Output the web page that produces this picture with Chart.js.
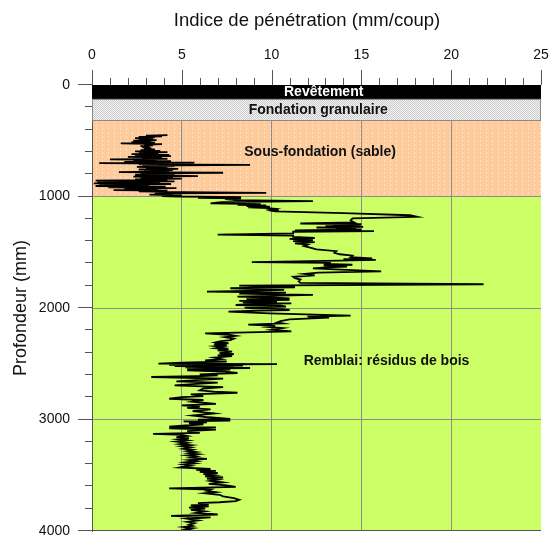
<!DOCTYPE html>
<html lang="fr">
<head>
<meta charset="utf-8">
<title>Indice de pénétration</title>
<script src="https://cdn.jsdelivr.net/npm/chart.js@4.4.1/dist/chart.umd.min.js"></script>
<style>
  html, body { margin: 0; padding: 0; background: #fff; overflow: hidden; }
  #cadre { position: relative; width: 558px; height: 535px; }
</style>
</head>
<body>
<div id="cadre"><canvas id="penetro"></canvas></div>
<script>
// graduations
const ticksX = [0, 5, 10, 15, 20, 25];
const ticksY = [0, 1000, 2000, 3000, 4000];

// couches (profondeur en mm)
const couches = ['Revêtement', 'Fondation granulaire', 'Sous-fondation (sable)', 'Remblai: résidus de bois'];
const couchesHaut = [0, 125, 320, 1000];
const couchesBas = [125, 320, 1000, 4000];
// ou ecrire le nom de la couche (indice, profondeur)
const nomX = [12.9, 12.6, 12.7, 16.4];
const nomY = [62, 222, 600, 2473];

// essai DCP : [profondeur mm, indice mm/coup]
const traceSable = [
  [450,4.2],[455,3.0],[460,3.9],[465,2.6],[470,3.5],[476,2.4],[482,3.4],[488,2.6],[494,3.6],[500,2.3],
  [506,3.3],[512,2.2],[518,3.5],[524,1.6],[530,3.9],[536,2.9],[542,3.4],[548,2.7],[554,3.2],[560,2.8],
  [566,3.3],[572,2.9],[578,3.5],[584,2.7],[590,3.8],[596,2.4],[602,4.2],[608,2.6],[614,3.7],[620,2.2],
  [626,4.3],[632,2.4],[638,4.4],[644,2.0],[650,3.9],[656,2.8],[662,4.2],[667,1.0],[672,3.6],[678,2.3],
  [684,4.4],[690,1.8],[697,5.7],[700,0.4],[706,4.0],[712,2.6],[716,8.8],[722,2.8],[728,4.6],[734,2.5],
  [740,4.2],[746,3.0],[752,4.8],[758,2.6],[764,4.5],[770,2.9],[776,4.3],[782,1.5],[787,7.3],[793,2.7],
  [799,4.6],[805,2.4],[811,4.0],[817,5.9],[822,2.3],[828,4.5],[834,2.7],[840,5.0],[846,2.4],[852,4.2],
  [858,0.2],[864,4.6],[870,0.3],[876,3.8],[882,0.1],[888,4.4],[894,0.4],[900,3.2],[906,0.2],[912,4.1],
  [918,0.9],[924,4.7],[930,1.8],[936,3.7],[942,1.2],[948,4.2],[954,2.6],[960,5.0],[967,9.7],[972,3.5],
  [978,4.5],[984,3.2],[990,5.0],[996,3.9]
];

const traceRemblaiHaut = [
  [1000,4.8],[1006,8.3],[1011,5.9],[1016,8.3],[1024,7.4],[1032,8.0],[1042,12.3],[1050,7.2],[1062,6.6],[1068,9.4],
  [1074,8.1],[1080,9.7],[1086,8.6],[1092,9.9],[1098,8.7],[1104,9.8],[1110,10.2],[1116,10.0],[1122,10.4],[1128,10.0],
  [1134,10.2],[1150,14.0],[1168,17.7],[1182,18.1],[1197,14.5],[1215,14.4],[1232,14.6],[1242,11.6],[1248,15.0],[1254,13.4],
  [1260,15.0],[1266,13.0],[1272,15.1],[1278,12.5],[1284,14.7],[1290,13.6],[1296,15.0],[1304,11.3],[1310,15.7],[1316,11.2],
  [1330,11.2],[1342,7.0],[1350,11.2],[1362,11.2],[1372,12.4],[1380,11.0],[1390,12.3],[1400,11.2],[1410,12.4],[1420,11.3],
  [1432,12.0],[1445,11.8],[1460,12.2],[1475,12.5],[1490,13.6],[1505,13.5],[1518,13.8],[1530,14.5],[1545,14.4],[1555,15.6],
  [1562,14.0],[1568,15.8],[1576,13.8],[1588,8.9],[1595,13.3],[1604,12.9],[1612,14.5],[1620,12.9],[1628,14.2],[1636,13.0],
  [1644,12.3],[1660,14.5],[1672,16.1],[1682,12.6],[1695,11.8],[1708,12.4],[1720,11.2],[1732,11.3],[1745,11.6],[1760,11.5],
  [1775,11.6],[1787,21.8],[1799,8.2],[1814,11.3],[1823,7.7],[1838,10.7],[1846,8.6],[1853,6.4],[1862,10.8],[1870,8.2],
  [1877,10.2],[1883,12.3],[1898,8.1],[1906,9.9],[1913,11.0],[1920,8.6],[1928,11.0],[1936,8.2],[1943,10.3],[1950,8.4],
  [1958,11.1],[1966,8.8],[1973,8.0],[1980,10.5],[1988,10.8],[1996,8.5],[2003,8.9],[2010,10.6],[2018,11.0],[2026,8.7],
  [2033,7.6],[2048,9.9],[2069,14.4],[2078,12.0],[2087,13.2],[2102,11.0],[2117,10.5],[2130,10.3]
];

const traceRemblaiBas = [
  [2138,10.6],[2150,8.7],[2160,10.2],[2170,9.8],[2180,10.6],[2195,10.0],[2210,11.1],[2228,6.3],[2240,7.6],[2250,8.0],
  [2262,7.4],[2275,7.9],[2288,7.7],[2300,7.1],[2308,6.9],[2316,7.6],[2324,6.8],[2334,7.5],[2342,6.9],[2350,7.3],
  [2360,6.9],[2370,7.6],[2380,7.0],[2392,7.8],[2404,7.1],[2414,7.9],[2424,7.0],[2432,7.8],[2445,6.8],[2458,7.2],
  [2470,6.3],[2480,7.5],[2490,5.0],[2498,3.7],[2504,10.3],[2510,4.3],[2516,8.4],[2520,4.6],[2526,7.9],[2532,5.2],
  [2538,8.8],[2544,5.3],[2552,7.7],[2559,5.3],[2570,7.4],[2583,8.1],[2595,6.0],[2605,7.0],[2612,5.8],[2619,3.3],
  [2634,7.3],[2646,5.8],[2658,4.7],[2670,7.0],[2682,5.6],[2694,4.6],[2709,7.3],[2722,6.2],[2739,6.0],[2750,6.8],
  [2760,8.1],[2775,5.5],[2790,6.2],[2800,5.0],[2814,4.3],[2825,6.2],[2840,5.6],[2859,6.9],[2874,5.0],[2885,6.0],
  [2895,5.3],[2910,6.6],[2925,5.6],[2945,6.8],[2964,5.6],[2980,6.5],[2994,7.7],[3002,5.9],[3010,7.7],[3016,5.1],
  [3026,6.4],[3034,5.4],[3044,6.2],[3054,5.2],[3064,4.3],[3070,6.9],[3080,4.3],[3090,6.9],[3105,5.3],[3120,6.0],
  [3129,3.4],[3138,5.0],[3148,5.3],[3158,4.7],[3168,5.4],[3178,4.8],[3188,5.3],[3198,4.7],[3210,5.3],[3220,4.9],
  [3230,5.5],[3240,5.0],[3250,5.5],[3262,5.1],[3272,5.6],[3282,5.3],[3292,5.8],[3302,5.4],[3312,5.9],[3322,5.3],
  [3332,5.8],[3342,5.5],[3354,6.4],[3364,5.4],[3374,5.8],[3384,5.2],[3394,5.7],[3404,5.1],[3414,5.5],[3430,4.9],
  [3444,6.6],[3452,5.8],[3460,6.9],[3470,6.0],[3480,7.0],[3490,6.2],[3500,6.8],[3510,6.3],[3520,7.3],[3530,6.4],
  [3540,7.0],[3550,6.6],[3565,7.3],[3578,6.5],[3590,7.5],[3604,8.0],[3618,4.3],[3628,6.6],[3640,6.4],[3652,6.9],
  [3662,6.3],[3675,7.1],[3690,7.3],[3705,7.9],[3720,8.2],[3732,8.0],[3742,7.1],[3750,5.9],[3760,6.5],[3770,5.5],
  [3780,6.5],[3790,5.4],[3800,6.3],[3810,5.5],[3825,6.3],[3838,5.8],[3852,7.0],[3865,4.4],[3878,6.6],[3890,5.3],
  [3905,5.9],[3918,5.3],[3930,5.7],[3945,5.4],[3955,5.6],[3965,5.1],[3975,5.6],[3985,5.2],[4000,5.7]
];

Chart.defaults.font.family = '"Liberation Sans", Arial, sans-serif';
Chart.defaults.color = '#111';

// petits motifs pour les couches
const motif = (w, h, fond, encre, pts) => {
  const c = document.createElement('canvas');
  c.width = w; c.height = h;
  const g = c.getContext('2d');
  g.fillStyle = fond; g.fillRect(0, 0, w, h);
  g.fillStyle = encre;
  pts.forEach(p => g.fillRect(p[0], p[1], 1, 1));
  return c;
};
const motifGravier = motif(4, 4, '#f3f3f3', '#cccccc', [[0,0],[2,0],[1,1],[3,1],[0,2],[2,2],[1,3],[3,3]]);
const motifSable = motif(6, 4, '#fdcb9c', '#ffe2c6', [[0,0],[0,1]]);

const couchesPlugin = {
  id: 'couches',
  beforeDraw(chart) {
    // sable et remblai sous la grille
    const { ctx, chartArea: { left, right }, scales: { y } } = chart;
    ctx.save();
    const fonds = [null, null, ctx.createPattern(motifSable, 'repeat'), '#ccff66'];
    [2, 3].forEach(i => {
      const h = y.getPixelForValue(couchesHaut[i]);
      const b = y.getPixelForValue(couchesBas[i]);
      ctx.fillStyle = fonds[i];
      ctx.fillRect(left, h, right - left, b - h);
    });
    ctx.restore();
  },
  beforeDatasetsDraw(chart) {
    // revetement et fondation par dessus la grille
    const { ctx, chartArea: { left, right }, scales: { y } } = chart;
    ctx.save();
    let h = y.getPixelForValue(couchesHaut[0]);
    let b = y.getPixelForValue(couchesBas[0]);
    ctx.fillStyle = '#000';
    ctx.fillRect(left, h, right - left, b - h);
    h = y.getPixelForValue(couchesHaut[1]);
    b = y.getPixelForValue(couchesBas[1]);
    ctx.fillStyle = ctx.createPattern(motifGravier, 'repeat');
    ctx.fillRect(left, h, right - left, b - h);
    ctx.strokeStyle = '#8a8a8a';
    ctx.lineWidth = 1;
    ctx.strokeRect(left + 0.5, Math.round(h) + 0.5, right - left - 1, Math.round(b - h) - 1);
    ctx.restore();
  },
  afterDatasetsDraw(chart) {
    const { ctx, scales: { x, y } } = chart;
    ctx.save();
    ctx.font = 'bold 14px "Liberation Sans", Arial, sans-serif';
    ctx.textAlign = 'center';
    ctx.textBaseline = 'middle';
    couches.forEach((nom, i) => {
      ctx.fillStyle = i === 0 ? '#fff' : '#111';
      ctx.fillText(nom, x.getPixelForValue(nomX[i]), y.getPixelForValue(nomY[i]));
    });
    ctx.restore();
  },
  afterDraw(chart) {
    const { ctx, chartArea: ca, scales: { x, y } } = chart;
    ctx.save();
    ctx.strokeStyle = '#555';
    ctx.lineWidth = 1;
    ctx.beginPath();
    for (let v = 0; v <= 25; v++) {
      const px = Math.round(x.getPixelForValue(v)) + 0.5;
      ctx.moveTo(px, ca.top);
      ctx.lineTo(px, ca.top - (v % 5 === 0 ? 15 : 7));
    }
    for (let v = 0; v <= 4000; v += 200) {
      const py = Math.round(y.getPixelForValue(v)) - 0.5;
      ctx.moveTo(ca.left, py);
      ctx.lineTo(ca.left - (v % 1000 === 0 ? 14 : 7), py);
    }
    ctx.moveTo(ca.left, Math.round(ca.bottom) - 0.5);
    ctx.lineTo(ca.right, Math.round(ca.bottom) - 0.5);
    ctx.stroke();
    // titre de l'axe du haut
    ctx.fillStyle = '#111';
    ctx.font = '18.5px "Liberation Sans", Arial, sans-serif';
    ctx.textAlign = 'center';
    ctx.textBaseline = 'middle';
    ctx.fillText('Indice de pénétration (mm/coup)', 307, 21);
    ctx.restore();
  }
};

const points = [...traceSable, ...traceRemblaiHaut, ...traceRemblaiBas].map(([p, i]) => ({ x: i, y: p }));

new Chart(document.getElementById('penetro'), {
  type: 'line',
  data: {
    datasets: [{
      data: points,
      borderColor: '#000',
      borderWidth: 1.8,
      pointRadius: 0,
      tension: 0,
      fill: false
    }]
  },
  options: {
    responsive: true,
    maintainAspectRatio: false,
    animation: false,
    indexAxis: 'y',
    layout: { padding: { left: 0, top: 0, right: 17, bottom: 4 } },
    plugins: { legend: { display: false }, tooltip: { enabled: false } },
    scales: {
      x: {
        type: 'linear',
        position: 'top',
        min: 0,
        max: 25,
        afterBuildTicks: s => { s.ticks = ticksX.map(v => ({ value: v })); },
        afterFit: s => { s.height = 85; s.paddingLeft = 0; s.paddingRight = 0; },
        ticks: { padding: 21, font: { size: 14 }, callback: v => String(v) },
        grid: {
          drawTicks: false,
          color: c => (c.tick && c.tick.value > 0 && c.tick.value < 25) ? '#8c8c8c' : 'rgba(0,0,0,0)'
        },
        border: { display: false }
      },
      y: {
        type: 'linear',
        reverse: true,
        min: 0,
        max: 4000,
        afterBuildTicks: s => { s.ticks = ticksY.map(v => ({ value: v })); },
        afterFit: s => { s.width = 92; s.paddingTop = 0; s.paddingBottom = 0; },
        ticks: { padding: 22, font: { size: 14 }, callback: v => String(v) },
        grid: {
          drawTicks: false,
          color: c => (c.tick && c.tick.value > 0 && c.tick.value < 4000) ? '#8c8c8c' : 'rgba(0,0,0,0)'
        },
        border: { display: true, color: '#555' },
        title: {
          display: true,
          text: 'Profondeur (mm)',
          font: { size: 18 },
          padding: { top: 10, bottom: 0 }
        }
      }
    }
  },
  plugins: [couchesPlugin]
});
</script>
</body>
</html>
